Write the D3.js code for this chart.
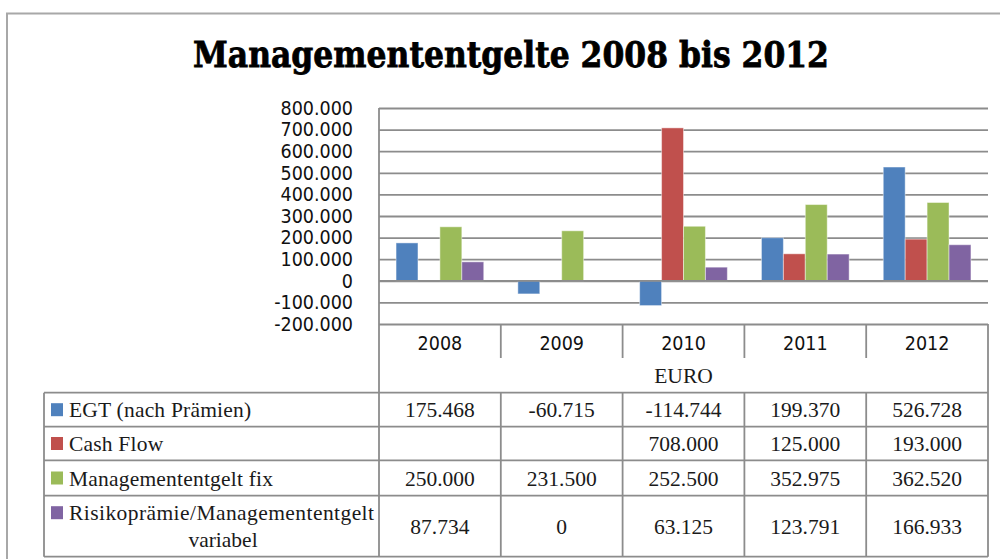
<!DOCTYPE html>
<html>
<head>
<meta charset="utf-8">
<script src="https://cdn.jsdelivr.net/npm/d3@7"></script>
<style>
  html, body { margin: 0; padding: 0; background: #ffffff; }
  svg { display: block; }
  .sans { font-family: "DejaVu Sans", sans-serif; font-stretch: condensed; font-size: 19.5px; fill: #111; }
  .serif { font-family: "Liberation Serif", serif; font-size: 21.5px; fill: #1a1a1a; }
</style>
</head>
<body>
<script>
// ---- data ----
const years = ["2008", "2009", "2010", "2011", "2012"];
const seriesNames = ["EGT (nach Prämien)", "Cash Flow", "Managemententgelt fix", "Risikoprämie/Managemententgelt variabel"];
const egt = [175468, -60715, -114744, 199370, 526728];
const cashFlow = [null, null, 708000, 125000, 193000];
const mgmtFix = [250000, 231500, 252500, 352975, 362520];
const riskVar = [87734, 0, 63125, 123791, 166933];
const yTicks = [-200000, -100000, 0, 100000, 200000, 300000, 400000, 500000, 600000, 700000, 800000];
const unitLabel = "EURO";
const title = "Managemententgelte 2008 bis 2012";

const seriesValues = [egt, cashFlow, mgmtFix, riskVar];
const colors = ["#4F81BD", "#C0504D", "#9BBB59", "#8064A2"];

const de = d3.formatLocale({ decimal: ",", thousands: ".", grouping: [3], currency: ["", " €"], minus: "-" });
const fmt = de.format(",.0f");

const W = 1000, H = 559;
const svg = d3.select("body").append("svg").attr("width", W).attr("height", H);

// outer frame
svg.append("path")
  .attr("d", "M7,562 L7,13.5 L1002,13.5")
  .attr("fill", "none").attr("stroke", "#a8a8a8").attr("stroke-width", 2);

// title
svg.append("text")
  .attr("x", 511).attr("y", 67)
  .attr("text-anchor", "middle")
  .attr("textLength", 636).attr("lengthAdjust", "spacingAndGlyphs")
  .style("font-family", "'DejaVu Serif', serif")
  .style("font-weight", "bold")
  .style("font-size", "35px")
  .style("fill", "#000")
  .style("stroke", "#000")
  .style("stroke-width", "0.8px")
  .text(title);

// scales
const plotL = 379, plotR = 988, plotT = 108, plotB = 324;
const x = d3.scaleBand().domain(years).range([plotL, plotR]);
const bw = x.bandwidth();
const xs = d3.scaleBand().domain(d3.range(seriesNames.length)).range([0.14 * bw, 0.86 * bw]);
const y = d3.scaleLinear().domain([-200000, 800000]).range([plotB, plotT]);

const gridColor = "#8c8c8c";

// y axis with gridlines
const yAxis = svg.append("g")
  .attr("transform", `translate(${plotL},0)`)
  .call(d3.axisLeft(y).tickValues(yTicks).tickSize(-(plotR - plotL)).tickPadding(26).tickFormat(fmt));
yAxis.select(".domain").remove();
yAxis.selectAll(".tick line").attr("stroke", gridColor).attr("stroke-width", 1.8);
yAxis.selectAll(".tick text").attr("class", "sans").attr("fill", "#111").attr("font-family", null).attr("font-size", null);

// bars
const barData = [];
seriesValues.forEach((vals, i) => {
  vals.forEach((v, j) => {
    if (v !== null && v !== 0) barData.push({ s: i, year: years[j], v: v });
  });
});
svg.append("g").selectAll("rect").data(barData).join("rect")
  .attr("x", d => x(d.year) + xs(d.s))
  .attr("width", xs.bandwidth())
  .attr("y", d => y(Math.max(0, d.v)))
  .attr("height", d => Math.abs(y(d.v) - y(0)))
  .attr("fill", d => colors[d.s])
  .attr("stroke", "rgba(255,255,255,0.45)")
  .attr("stroke-width", 1);

// redraw zero line on top
svg.append("line")
  .attr("x1", plotL).attr("x2", plotR).attr("y1", y(0)).attr("y2", y(0))
  .attr("stroke", gridColor).attr("stroke-width", 1.8);

// ---- data table ----
const yearRowB = 358;
const rowTops = [392.7, 426.7, 460.3, 495.7];
const tableB = 556.7;
const legendL = 44;
const tbl = svg.append("g").attr("stroke", gridColor).attr("stroke-width", 1.8);

// vertical lines
tbl.append("line").attr("x1", plotL).attr("x2", plotL).attr("y1", plotT).attr("y2", tableB);
tbl.append("line").attr("x1", plotR).attr("x2", plotR).attr("y1", plotB).attr("y2", tableB);
tbl.append("line").attr("x1", legendL).attr("x2", legendL).attr("y1", rowTops[0]).attr("y2", tableB);
years.slice(1).forEach(yr => {
  tbl.append("line").attr("x1", x(yr)).attr("x2", x(yr)).attr("y1", plotB).attr("y2", yearRowB);
  tbl.append("line").attr("x1", x(yr)).attr("x2", x(yr)).attr("y1", rowTops[0]).attr("y2", tableB);
});
// horizontal lines
rowTops.concat([tableB]).forEach(yy => {
  tbl.append("line").attr("x1", legendL).attr("x2", plotR).attr("y1", yy).attr("y2", yy);
});

// year labels
svg.append("g").selectAll("text").data(years).join("text")
  .attr("class", "sans")
  .attr("x", d => x(d) + bw / 2)
  .attr("y", 350)
  .attr("text-anchor", "middle")
  .text(d => d);

// unit label
svg.append("text").attr("class", "serif")
  .attr("x", (plotL + plotR) / 2).attr("y", 383)
  .attr("text-anchor", "middle")
  .text(unitLabel);

// rows
seriesNames.forEach((name, i) => {
  const top = rowTops[i];
  const bot = i < rowTops.length - 1 ? rowTops[i + 1] : tableB;
  const cy = (top + bot) / 2;
  const isTwoLine = name.indexOf("/") >= 0 && i === seriesNames.length - 1;
  const firstBase = isTwoLine ? cy - 6 : cy + 7.5;
  // key
  svg.append("rect")
    .attr("x", 51).attr("width", 12)
    .attr("y", firstBase - 14).attr("height", 13)
    .attr("fill", colors[i]);
  if (isTwoLine) {
    const parts = name.split(" ");
    const line1 = parts[0];
    const line2 = parts.slice(1).join(" ");
    svg.append("text").attr("class", "serif")
      .attr("x", 69).attr("y", firstBase)
      .attr("textLength", 305).attr("lengthAdjust", "spacing")
      .text(line1);
    svg.append("text").attr("class", "serif")
      .attr("x", 223).attr("y", firstBase + 27)
      .attr("text-anchor", "middle")
      .text(line2);
  } else {
    svg.append("text").attr("class", "serif")
      .attr("x", 69).attr("y", firstBase)
      .style("letter-spacing", "0.2px")
      .text(name);
  }
  seriesValues[i].forEach((v, j) => {
    if (v === null) return;
    svg.append("text").attr("class", "serif")
      .attr("x", x(years[j]) + bw / 2)
      .attr("y", cy + 7.5)
      .attr("text-anchor", "middle")
      .text(fmt(v));
  });
});
</script>
</body>
</html>
